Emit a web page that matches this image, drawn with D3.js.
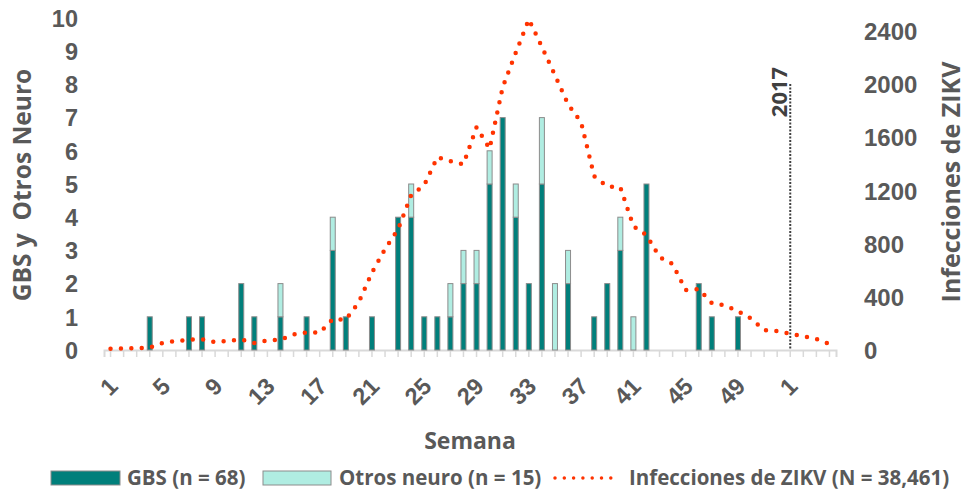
<!DOCTYPE html>
<html>
<head>
<meta charset="utf-8">
<script src="https://cdn.jsdelivr.net/npm/d3@7"></script>
<style>
  body { margin: 0; background: #fff; }
  svg { font-family: "Open Sans", Lato, sans-serif; font-weight: 700; }
  .axis text { fill: #595959; }
</style>
</head>
<body>
<svg id="chart"></svg>
<script>
// weeks of 2016 (1-52) then first weeks of 2017
var weeks = [
  "1","2","3","4","5","6","7","8","9","10","11","12","13","14","15","16","17","18","19","20",
  "21","22","23","24","25","26","27","28","29","30","31","32","33","34","35","36","37","38","39","40",
  "41","42","43","44","45","46","47","48","49","50","51","52","1","2","3","4"
];
var gbs = [
  0,0,0,1,0,0,1,1,0,0, 2,1,0,1,0,1,0,3,1,0,
  1,0,4,4,1,1,1,2,2,5, 7,4,2,5,0,2,0,1,2,3,
  0,5,0,0,0,2,1,0,1,0, 0,0,0,0,0,0
];
var otros = [
  0,0,0,0,0,0,0,0,0,0, 0,0,0,1,0,0,0,1,0,0,
  0,0,0,1,0,0,1,1,1,1, 0,1,0,2,2,1,0,0,0,1,
  1,0,0,0,0,0,0,0,0,0, 0,0,0,0,0,0
];
var zikv = [
  10,12,13,19,53,68,77,81,60,68, 79,53,71,77,117,133,130,233,229,361,
  583,760,910,1166,1241,1452,1422,1399,1678,1516, 1979,2238,2490,2283,2069,1851,1715,1309,1232,1225,
  933,865,700,647,451,459,354,335,293,237, 150,143,122,103,83,45
];
var leftTicks = [0,1,2,3,4,5,6,7,8,9,10];
var rightTicks = [0,400,800,1200,1600,2000,2400];
var legendLabels = ["GBS (n = 68)", "Otros neuro (n = 15)", "Infecciones de ZIKV (N = 38,461)"];
var yearMark = { index: 52, label: "2017" };

var width = 973, height = 493;
var colGBS = "#007F7B", colOtros = "#B0EDE2", colLine = "#FF3300", colText = "#595959";

var svg = d3.select("#chart").attr("width", width).attr("height", height);

var idx = d3.range(weeks.length);
var x = d3.scaleBand().domain(idx).range([104, 836]).padding(0);
var cx = function (i) { return x(i) + x.bandwidth() / 2; };
var yL = d3.scaleLinear().domain([0, 10]).range([350, 18]);
var yR = d3.scaleLinear().domain([0, 2500]).range([350, 18]);

// x axis
var xAxis = d3.axisBottom(x).tickSize(7).tickFormat(function (i) { return weeks[i]; });
var gx = svg.append("g")
  .attr("class", "axis")
  .attr("transform", "translate(0,350)")
  .call(xAxis);
gx.select(".domain").attr("stroke", "#D9D9D9").attr("stroke-width", 2);
gx.selectAll(".tick line").attr("stroke", "#D9D9D9").attr("stroke-width", 1.5);
gx.selectAll(".tick text")
  .style("display", function (i) { return i % 4 === 0 ? null : "none"; })
  .attr("font-size", 23.5)
  .attr("y", 0).attr("x", 0).attr("dy", "0.35em")
  .attr("transform", "translate(3,32) rotate(-45)")
  .attr("text-anchor", "end");

// left axis
var gl = svg.append("g")
  .attr("class", "axis")
  .attr("transform", "translate(78,0)")
  .call(d3.axisLeft(yL).tickValues(leftTicks).tickSize(0).tickPadding(0));
gl.select(".domain").remove();
gl.selectAll("text").attr("font-size", 23.5).attr("dy", "0.35em");

// right axis
var gr = svg.append("g")
  .attr("class", "axis")
  .attr("transform", "translate(864,0)")
  .call(d3.axisRight(yR).tickValues(rightTicks).tickSize(0).tickPadding(0).tickFormat(d3.format("d")));
gr.select(".domain").remove();
gr.selectAll("text").attr("font-size", 24).attr("dy", "0.35em");

// axis titles
svg.append("text")
  .attr("transform", "translate(31,185) rotate(-90)")
  .attr("text-anchor", "middle")
  .attr("font-size", 24.5)
  .attr("fill", colText)
  .style("white-space", "pre")
  .text("GBS y  Otros Neuro");

svg.append("text")
  .attr("transform", "translate(960,182) rotate(-90)")
  .attr("text-anchor", "middle")
  .attr("font-size", 25)
  .attr("fill", colText)
  .text("Infecciones de ZIKV");

svg.append("text")
  .attr("x", 470).attr("y", 449)
  .attr("text-anchor", "middle")
  .attr("font-size", 23)
  .attr("fill", colText)
  .text("Semana");

// 2017 marker
svg.append("line")
  .attr("x1", cx(yearMark.index)).attr("x2", cx(yearMark.index))
  .attr("y1", 84).attr("y2", 350)
  .attr("stroke", "#404040").attr("stroke-width", 2)
  .attr("stroke-dasharray", "2,1.5");
svg.append("text")
  .attr("transform", "translate(" + (cx(yearMark.index) - 3) + ",92) rotate(-90)")
  .attr("text-anchor", "middle")
  .attr("font-size", 22)
  .attr("fill", "#404040")
  .text(yearMark.label);

// stacked bars
var barW = 5;
var bars = svg.append("g");
bars.selectAll(".gbs")
  .data(idx.filter(function (i) { return gbs[i] > 0; }))
  .enter().append("rect")
  .attr("x", function (i) { return cx(i) - barW / 2; })
  .attr("y", function (i) { return yL(gbs[i]); })
  .attr("width", barW)
  .attr("height", function (i) { return yL(0) - yL(gbs[i]); })
  .attr("fill", colGBS).attr("stroke", "#8C8C8C").attr("stroke-width", 1);
bars.selectAll(".otros")
  .data(idx.filter(function (i) { return otros[i] > 0; }))
  .enter().append("rect")
  .attr("x", function (i) { return cx(i) - barW / 2; })
  .attr("y", function (i) { return yL(gbs[i] + otros[i]); })
  .attr("width", barW)
  .attr("height", function (i) { return yL(gbs[i]) - yL(gbs[i] + otros[i]); })
  .attr("fill", colOtros).attr("stroke", "#8C8C8C").attr("stroke-width", 1);

// ZIKV dotted line
var line = d3.line()
  .x(function (d, i) { return cx(i); })
  .y(function (d) { return yR(d); });
svg.append("path")
  .datum(zikv)
  .attr("d", line)
  .attr("fill", "none")
  .attr("stroke", colLine)
  .attr("stroke-width", 4.5)
  .attr("stroke-linecap", "round")
  .attr("stroke-dasharray", "0,10.4");

// legend
var lg = svg.append("g").attr("font-size", 20.5).attr("fill", colText);
lg.append("rect").attr("x", 51).attr("y", 471).attr("width", 69).attr("height", 14)
  .attr("fill", colGBS).attr("stroke", "#8C8C8C");
lg.append("text").attr("x", 127).attr("y", 478).attr("dy", "0.35em").text(legendLabels[0]);
lg.append("rect").attr("x", 263).attr("y", 471).attr("width", 68).attr("height", 14)
  .attr("fill", colOtros).attr("stroke", "#8C8C8C");
lg.append("text").attr("x", 339).attr("y", 478).attr("dy", "0.35em").text(legendLabels[1]);
lg.append("line").attr("x1", 555).attr("x2", 611).attr("y1", 478).attr("y2", 478)
  .attr("stroke", colLine).attr("stroke-width", 3.5)
  .attr("stroke-linecap", "round").attr("stroke-dasharray", "0,9.3");
lg.append("text").attr("x", 629).attr("y", 478).attr("dy", "0.35em").text(legendLabels[2]);
</script>
</body>
</html>
